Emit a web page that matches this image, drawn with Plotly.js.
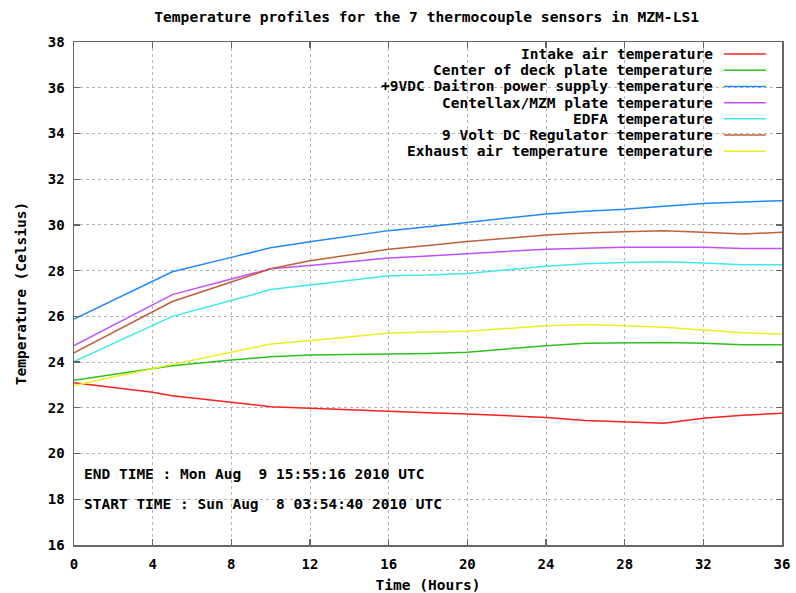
<!DOCTYPE html>
<html>
<head>
<meta charset="utf-8">
<script src="https://cdn.plot.ly/plotly-3.0.1.min.js"></script>
<style>html,body{margin:0;padding:0;background:#fff;}#chart{width:796px;height:593px;}</style>
</head>
<body>
<div id="chart"></div>
<script>
const hours = [0, 4, 5, 8, 10, 12, 16, 18, 20, 24, 26, 28, 30, 32, 34, 36];

const intakeAir   = [23.10, 22.68, 22.53, 22.24, 22.05, 21.98, 21.83, 21.78, 21.73, 21.58, 21.44, 21.39, 21.33, 21.54, 21.68, 21.76];
const deckPlate   = [23.20, 23.73, 23.84, 24.09, 24.23, 24.31, 24.35, 24.38, 24.43, 24.72, 24.82, 24.83, 24.86, 24.82, 24.76, 24.76];
const daitronPS   = [25.88, 27.55, 27.95, 28.58, 29.00, 29.26, 29.75, 29.92, 30.11, 30.48, 30.60, 30.69, 30.82, 30.94, 31.00, 31.06];
const centellax   = [24.72, 26.50, 26.95, 27.63, 28.08, 28.22, 28.55, 28.64, 28.73, 28.94, 28.98, 29.02, 29.02, 29.02, 28.97, 28.97];
const edfa        = [24.02, 25.60, 26.00, 26.69, 27.17, 27.37, 27.78, 27.81, 27.88, 28.19, 28.30, 28.36, 28.39, 28.33, 28.26, 28.26];
const regulator   = [24.40, 26.19, 26.65, 27.50, 28.08, 28.43, 28.94, 29.10, 29.27, 29.56, 29.65, 29.70, 29.75, 29.68, 29.60, 29.68];
const exhaustAir  = [22.97, 23.73, 23.90, 24.43, 24.79, 24.93, 25.27, 25.32, 25.35, 25.59, 25.64, 25.59, 25.52, 25.40, 25.28, 25.23];

const seriesNames = [
  "Intake air temperature",
  "Center of deck plate temperature",
  "+9VDC Daitron power supply temperature",
  "Centellax/MZM plate temperature",
  "EDFA temperature",
  "9 Volt DC Regulator temperature",
  "Exhaust air temperature temperature"
];
const seriesValues = [intakeAir, deckPlate, daitronPS, centellax, edfa, regulator, exhaustAir];
const seriesColors = ["#ff2020", "#30c020", "#2088ff", "#c050ff", "#40e8e8", "#c0603a", "#eeee20"];

const xTicks = [0, 4, 8, 12, 16, 20, 24, 28, 32, 36];
const yTicks = [16, 18, 20, 22, 24, 26, 28, 30, 32, 34, 36, 38];
const endTimeText = "END TIME : Mon Aug \u00a09 15:55:16 2010 UTC";
const startTimeText = "START TIME : Sun Aug \u00a08 03:54:40 2010 UTC";

const FONT = {family: "DejaVu Sans Mono", size: 14.5, color: "#000", weight: "bold"};
const TICKFONT = {family: "DejaVu Sans Mono", size: 14, color: "#000", weight: "bold"};

const traces = seriesValues.map((vals, i) => ({
  x: hours, y: vals, type: "scatter", mode: "lines",
  name: seriesNames[i], showlegend: false,
  line: {color: seriesColors[i], width: 1.5}
}));

// legend drawn gnuplot-style: right-aligned text, sample line on the right
const legendTop = 0.976, legendStep = 0.0322;
const annotations = [];
const shapes = [];
seriesNames.forEach((n, i) => {
  const yy = legendTop - i * legendStep;
  annotations.push({xref: "paper", yref: "paper", x: 0.906, y: yy, xanchor: "right", yanchor: "middle",
    text: n, showarrow: false, font: FONT});
  shapes.push({type: "line", xref: "paper", yref: "paper", x0: 0.918, x1: 0.977, y0: yy, y1: yy,
    line: {color: seriesColors[i], width: 1.5}});
});
annotations.push({xref: "paper", yref: "paper", x: 0.012, y: 0.141, xanchor: "left", yanchor: "middle",
  text: endTimeText, showarrow: false, font: FONT});
annotations.push({xref: "paper", yref: "paper", x: 0.012, y: 0.0815, xanchor: "left", yanchor: "middle",
  text: startTimeText, showarrow: false, font: FONT});

const axisCommon = {
  showline: true, linecolor: "#666", linewidth: 1.5, mirror: "ticks",
  ticks: "inside", ticklen: 6, tickcolor: "#666", tickwidth: 1.2,
  showgrid: true, gridcolor: "#b4b4b4", griddash: "dot", gridwidth: 1,
  zeroline: false, tickfont: TICKFONT, fixedrange: true
};

const layout = {
  width: 796, height: 593,
  margin: {l: 74, r: 14, t: 42, b: 48},
  paper_bgcolor: "#fff", plot_bgcolor: "#fff",
  title: {text: "Temperature profiles for the 7 thermocouple sensors in MZM-LS1",
    font: Object.assign({}, FONT, {size: 14.6}), x: 0.536, xanchor: "center", y: 0.972, yanchor: "middle"},
  xaxis: Object.assign({}, axisCommon, {range: [0, 36], tickvals: xTicks, ticktext: xTicks.map(String),
    ticklabelstandoff: 6,
    title: {text: "Time (Hours)", font: FONT, standoff: 9}}),
  yaxis: Object.assign({}, axisCommon, {range: [16, 38], tickvals: yTicks, ticktext: yTicks.map(String),
    ticklabelstandoff: 5,
    title: {text: "Temperature (Celsius)", font: FONT, standoff: 18}}),
  annotations: annotations,
  shapes: shapes,
  showlegend: false
};

Plotly.newPlot("chart", traces, layout, {staticPlot: true, displayModeBar: false});
</script>
</body>
</html>
